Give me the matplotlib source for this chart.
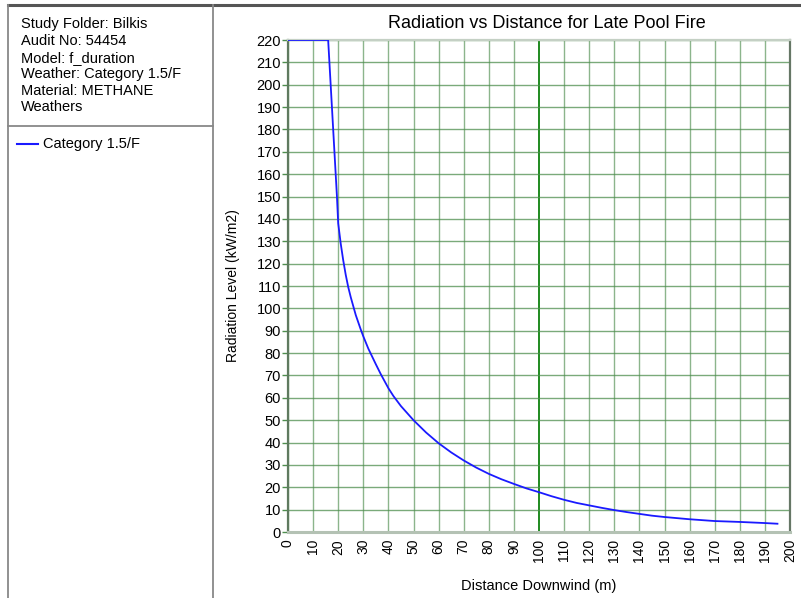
import matplotlib
matplotlib.use("Agg")
import matplotlib.pyplot as plt
from matplotlib.lines import Line2D

plt.rcParams['font.family'] = ['Liberation Sans', 'DejaVu Sans']

# Radiation level along the downwind distance, category 1.5/F
distance_m = [0, 16, 18, 19.5, 20, 21, 22, 23, 24, 25, 27, 29, 30, 32, 35, 37,
              40, 42, 45, 50, 55, 60, 65, 70, 75, 80, 85, 90, 95, 100, 105,
              110, 115, 120, 125, 130, 135, 140, 145, 150, 160, 170, 180,
              190, 195]
radiation_kw_m2 = [220, 220, 180, 150, 138, 129, 121.5, 115, 109.5, 105, 97,
                   90.5, 87.5, 82, 75, 70.5, 64.3, 60.8, 56.3, 50, 44.5, 39.7,
                   35.6, 32, 28.8, 26, 23.6, 21.5, 19.5, 17.8, 16, 14.4, 13,
                   11.9, 10.8, 9.8, 8.9, 8.1, 7.3, 6.7, 5.7, 4.9, 4.5, 4.0, 3.7]

x_ticks = list(range(0, 201, 10))
y_ticks = list(range(0, 221, 10))

info_lines = ["Study Folder: Bilkis", "Audit No: 54454", "Model: f_duration",
              "Weather: Category 1.5/F", "Material: METHANE", "Weathers"]
series_name = "Category 1.5/F"

W, H = 801, 598
fig = plt.figure(figsize=(W / 100, H / 100), dpi=100)

def fx(px):
    return px / W

def fy(py):
    return 1 - py / H

# Chart area
ax = fig.add_axes([fx(288), fy(532), fx(790) - fx(288), fy(40) - fy(532)])
ax.set_xlim(0, 200)
ax.set_ylim(0, 220)
ax.set_xticks(x_ticks)
ax.set_yticks(y_ticks)
ax.set_xticklabels([str(v) for v in x_ticks], rotation=90, fontsize=10)
ax.set_yticklabels([str(v) for v in y_ticks], fontsize=10.5)

grid_color = '#4e8e4e'
for v in x_ticks:
    if v == 100:
        ax.axvline(v, color='#1f8a1f', lw=1.4, zorder=1)
    else:
        ax.axvline(v, color=grid_color, lw=1.0, alpha=0.65, zorder=1)
for v in y_ticks:
    ax.axhline(v, color=grid_color, lw=1.0, alpha=0.75, zorder=1)

ax.plot(distance_m, radiation_kw_m2, color='#1a1aff', lw=1.3, zorder=3)

ax.tick_params(axis='y', length=4, width=1, color=grid_color, pad=1)
ax.tick_params(axis='x', length=0, pad=5)
ax.spines['left'].set_color('#5f7a5f')
ax.spines['left'].set_linewidth(1.6)
ax.spines['bottom'].set_color('#b4c2b4')
ax.spines['bottom'].set_linewidth(2.2)
ax.spines['top'].set_color('#c4d0c4')
ax.spines['top'].set_linewidth(1.6)
ax.spines['right'].set_color('#667766')
ax.spines['right'].set_linewidth(1.6)

ax.set_xlabel("Distance Downwind (m)", fontsize=10.5, labelpad=12)
ax.set_ylabel("Radiation Level (kW/m2)", fontsize=10, labelpad=12)
fig.text(fx(547), fy(23), "Radiation vs Distance for Late Pool Fire",
         fontsize=13, ha='center', va='center')

# Side panel frame
fig.add_artist(Line2D([fx(8), 1], [fy(5), fy(5)], color='#555555', lw=2.2))
fig.add_artist(Line2D([fx(8), fx(8)], [fy(5), 0], color='#888888', lw=1.3))
fig.add_artist(Line2D([fx(213), fx(213)], [fy(5), 0], color='#888888', lw=1.3))
fig.add_artist(Line2D([fx(8), fx(213)], [fy(126), fy(126)], color='#888888', lw=1.3))

info_y = [24, 41, 58, 74, 91, 107]
for txt, py in zip(info_lines, info_y):
    fig.text(fx(21), fy(py), txt, fontsize=10.5, ha='left', va='center')

fig.add_artist(Line2D([fx(17), fx(38)], [fy(144), fy(144)], color='#1a1aff', lw=1.5))
fig.text(fx(43), fy(144), series_name, fontsize=10.5, ha='left', va='center')

fig.savefig("out.png", dpi=100)
